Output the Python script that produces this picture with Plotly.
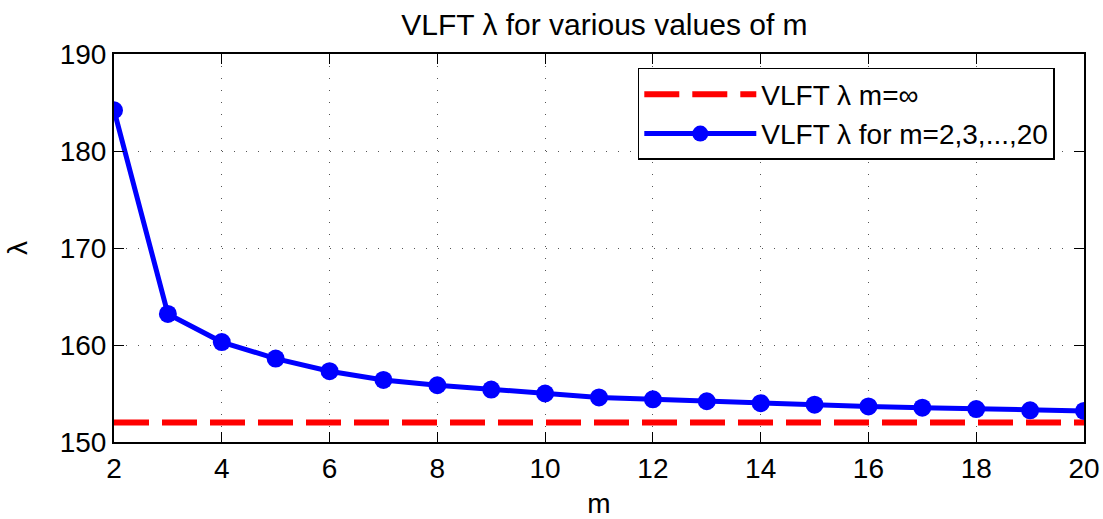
import plotly.graph_objects as go

m_values = list(range(2, 21))
lambda_values = [184.2, 163.2, 160.3, 158.6, 157.3, 156.4, 155.85, 155.4, 155.0,
                 154.6, 154.4, 154.2, 154.0, 153.85, 153.67, 153.54, 153.4, 153.27, 153.2]
lambda_inf = 152.0
inf_x = [2, 20]
inf_y = [lambda_inf, lambda_inf]

x_ticks = [2, 4, 6, 8, 10, 12, 14, 16, 18, 20]
y_ticks = [150, 160, 170, 180, 190]

FONT = "Liberation Sans, Arial, Helvetica, sans-serif"

fig = go.Figure()
fig.add_trace(go.Scatter(
    x=inf_x, y=inf_y, mode="lines", name="VLFT λ m=∞",
    line=dict(color="#ff0000", width=6, dash="35px,13px"),
))
fig.add_trace(go.Scatter(
    x=m_values, y=lambda_values, mode="lines+markers", name="VLFT λ for m=2,3,...,20",
    line=dict(color="#0000ff", width=5),
    marker=dict(color="#0000ff", size=18, line=dict(width=0)),
))

axis_common = dict(
    showline=True, linecolor="black", linewidth=2, mirror="ticks",
    ticks="inside", ticklen=10, tickcolor="black", tickwidth=1,
    showgrid=True, gridcolor="#555555", gridwidth=1, griddash="1px,11px",
    zeroline=False, automargin=False,
    tickfont=dict(family=FONT, size=28, color="black"),
)

fig.update_layout(
    width=1103, height=519,
    margin=dict(l=114, r=19, t=54, b=77),
    paper_bgcolor="white", plot_bgcolor="white",
    font=dict(family=FONT, color="black"),
    title=dict(text="VLFT λ for various values of m", x=0.548, xanchor="center",
               y=0.952, yanchor="middle", font=dict(family=FONT, size=30, color="black")),
    xaxis=dict(range=[2, 20], tickvals=x_ticks, ticktext=[str(v) for v in x_ticks],
               title=dict(text="m", font=dict(family=FONT, size=28), standoff=14),
               **axis_common),
    yaxis=dict(range=[150, 190], tickvals=y_ticks, ticktext=[str(v) for v in y_ticks],
               title=dict(text="λ", font=dict(family=FONT, size=28), standoff=24),
               **axis_common),
    legend=dict(x=0.540, y=0.964, xanchor="left", yanchor="top",
                bgcolor="white", bordercolor="black", borderwidth=1.5,
                font=dict(family=FONT, size=28, color="black"),
                itemwidth=112, tracegroupgap=0),
    showlegend=True,
)

fig.write_html("out.html")
